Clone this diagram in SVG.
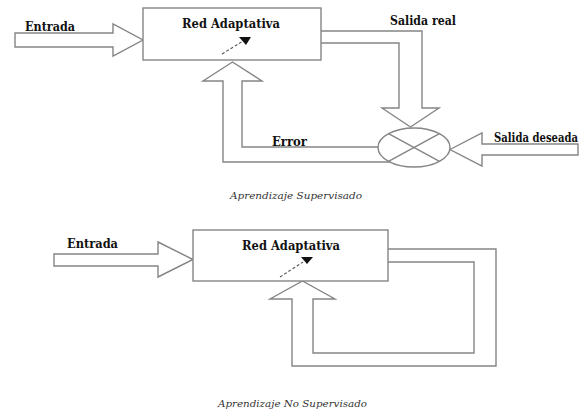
<svg xmlns="http://www.w3.org/2000/svg" width="587" height="417" viewBox="0 0 587 417">
  <style>
    .ln { fill: none; stroke: #858585; stroke-width: 1.4; stroke-linejoin: miter; }
    .blk { fill: #ffffff; stroke: #858585; stroke-width: 1.4; }
    .lbl { font-family: 'DejaVu Serif', 'Liberation Serif', serif; font-weight: bold; font-size: 12px; fill: #111; }
    .cap { font-family: 'DejaVu Serif', 'Liberation Serif', serif; font-style: italic; font-size: 10px; fill: #333; }
    .knob { fill: none; stroke: #555; stroke-width: 1.1; stroke-dasharray: 3 2; }
    .tip { fill: #111; }
  </style>
  <rect width="587" height="417" fill="#ffffff"/>

  <!-- Supervised learning -->
  <g id="connectors-top">
    <polygon id="in-top" class="blk" points="15,33 113,33 113,24 143,40 113,56 113,47 15,47"/>
    <polyline id="out-top" class="ln" points="321,31 422,31 422,108 439,108 410.5,127 382,108 399,108 399,43 321,43"/>
    <polyline id="error-top" class="ln" points="379,147 242,147 242,81 262,81 232.5,62 203,81 223,81 223,162 390,162"/>
    <polygon id="desired-top" class="blk" points="450,149.5 482,133 482,144 578,144 578,155 482,155 482,166"/>
  </g>
  <g id="net-top">
    <rect class="blk" x="143" y="8" width="178" height="52"/>
    <text class="lbl" x="182" y="28" textLength="98" lengthAdjust="spacingAndGlyphs">Red Adaptativa</text>
    <line class="knob" x1="222" y1="54" x2="243" y2="41"/>
    <polygon class="tip" points="239,37 251,37 246,45"/>
  </g>
  <g id="comparator">
    <ellipse class="blk" cx="414" cy="147.5" rx="36" ry="19.5"/>
    <line class="ln" x1="388.5" y1="133.7" x2="439.5" y2="161.3"/>
    <line class="ln" x1="439.5" y1="133.7" x2="388.5" y2="161.3"/>
  </g>
  <g id="labels-top">
    <text class="lbl" x="25" y="31" textLength="50" lengthAdjust="spacingAndGlyphs">Entrada</text>
    <text class="lbl" x="390" y="25" textLength="66" lengthAdjust="spacingAndGlyphs">Salida real</text>
    <text class="lbl" x="272" y="146" textLength="35" lengthAdjust="spacingAndGlyphs">Error</text>
    <text class="lbl" x="494" y="142" font-size="10.5" textLength="84" lengthAdjust="spacingAndGlyphs">Salida deseada</text>
    <text class="cap" x="230" y="199" textLength="132" lengthAdjust="spacingAndGlyphs">Aprendizaje Supervisado</text>
  </g>

  <!-- Unsupervised learning -->
  <g id="connectors-bottom">
    <polygon id="in-bottom" class="blk" points="54,254 158,254 158,242 193,259.5 158,277 158,266 54,266"/>
    <polyline id="loop-bottom" class="ln" points="388,249 496,249 496,366 292,366 292,299 270,299 302.5,281 335,299 313,299 313,353 474,353 474,262 388,262"/>
  </g>
  <g id="net-bottom">
    <rect class="blk" x="193" y="230" width="195" height="51"/>
    <text class="lbl" x="242" y="250" textLength="98" lengthAdjust="spacingAndGlyphs">Red Adaptativa</text>
    <line class="knob" x1="280" y1="277" x2="303" y2="262"/>
    <polygon class="tip" points="301,257 313,257 307,264"/>
  </g>
  <g id="labels-bottom">
    <text class="lbl" x="67" y="248" textLength="51" lengthAdjust="spacingAndGlyphs">Entrada</text>
    <text class="cap" x="218" y="407" textLength="149" lengthAdjust="spacingAndGlyphs">Aprendizaje No Supervisado</text>
  </g>
</svg>
